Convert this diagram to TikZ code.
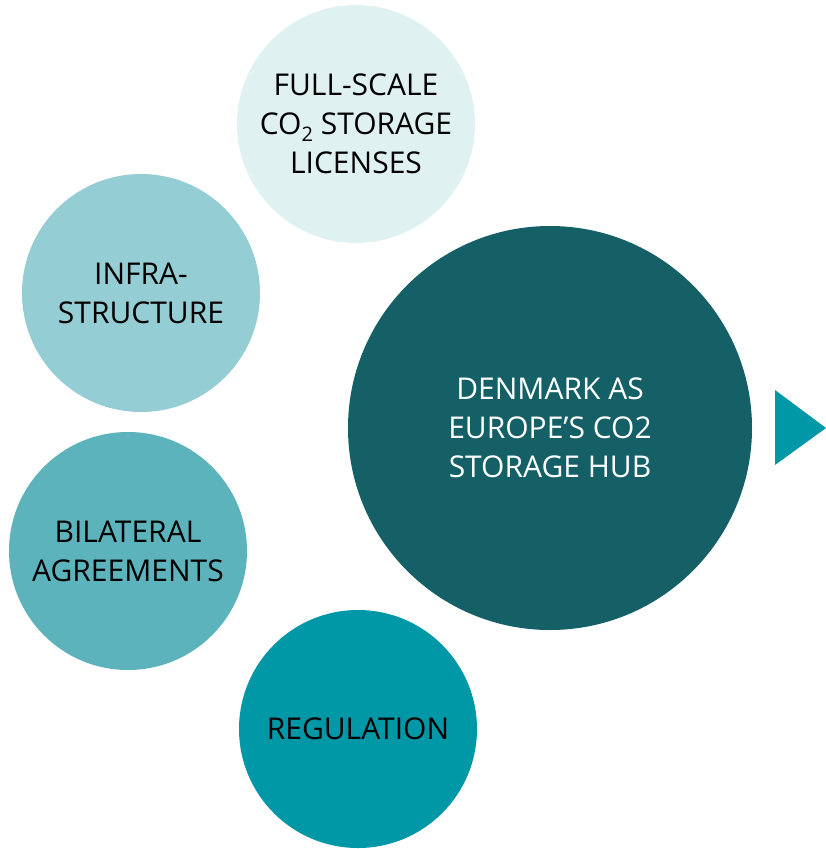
\documentclass[tikz,border=0pt]{standalone}
\usepackage{fontspec}
\setmainfont{Open Sans}
\definecolor{cpale}{HTML}{E0F1F2}
\definecolor{clight}{HTML}{95CDD4}
\definecolor{cmid}{HTML}{5CB3BB}
\definecolor{cteal}{HTML}{0097A7}
\definecolor{cdark}{HTML}{155F66}
\newcommand{\cotwo}{CO\raisebox{-0.22em}{\fontsize{20}{20}\selectfont 2}}
\begin{document}
\begin{tikzpicture}[x=1pt,y=-1pt]
    \useasboundingbox (0,0) rectangle (826,849);

    \tikzstyle{cnode} = [circle, inner sep = 0pt, align=center, minimum size = 238pt,
                         font=\fontsize{30}{39}\selectfont]
    \tikzstyle{hnode} = [cnode, minimum size = 404pt, text=white]

    \node[cnode, fill=cpale] (lic) at (356,124) {FULL-SCALE\\ \cotwo{} STORAGE\\ LICENSES};
    \node[cnode, fill=clight] (infra) at (141,293) {INFRA-\\ STRUCTURE};
    \node[cnode, fill=cmid] (bilat) at (128,551) {BILATERAL\\ AGREEMENTS};
    \node[cnode, fill=cteal] (reg) at (358,729) {REGULATION};

    \node[hnode, fill=cdark] (hub) at (550,428) {DENMARK AS\\ EUROPE'S CO2\\ STORAGE HUB};

    \fill[cteal] (775,390) -- (826,428) -- (775,465) -- cycle;
\end{tikzpicture}
\end{document}
